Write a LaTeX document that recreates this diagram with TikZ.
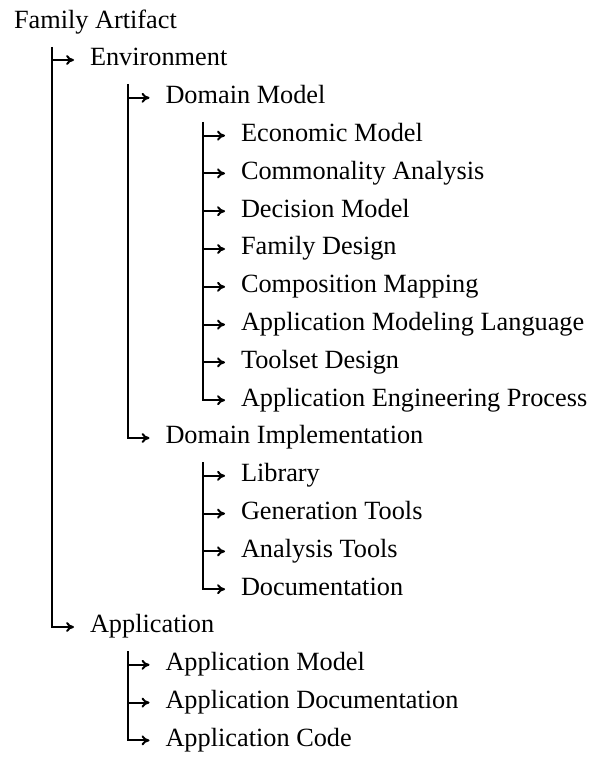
\documentclass[tikz,border=0pt]{standalone}
\usepackage{fontspec}
\setmainfont{Liberation Serif}
\usetikzlibrary{arrows.meta}
\begin{document}
\begin{tikzpicture}[x=1pt,y=-1pt,
  lbl/.style={anchor=west,inner sep=0pt,outer sep=0pt,
    font=\fontsize{26.3}{30}\selectfont,text height=18.4pt,text depth=6.6pt},
  conn/.style={line width=2pt,-{To[length=8pt,width=10pt]},shorten >=16pt}]
\useasboundingbox (0,0) rectangle (595,757);
% level 0
\node[lbl] (fa) at (14,22.2) {Family Artifact};
% level 1
\node[lbl] (env) at (90,60) {Environment};
\node[lbl] (app) at (90,627) {Application};
% level 2
\node[lbl] (dm) at (165.5,97.8) {Domain Model};
\node[lbl] (di) at (165.5,438) {Domain Implementation};
\node[lbl] (am) at (165.5,664.8) {Application Model};
\node[lbl] (ad) at (165.5,702.6) {Application Documentation};
\node[lbl] (ac) at (165.5,740.4) {Application Code};
% level 3 under Domain Model
\node[lbl] (em) at (241,135.6) {Economic Model};
\node[lbl] (ca) at (241,173.4) {Commonality Analysis};
\node[lbl] (dcm) at (241,211.2) {Decision Model};
\node[lbl] (fd) at (241,249) {Family Design};
\node[lbl] (cm) at (241,286.8) {Composition Mapping};
\node[lbl] (aml) at (241,324.6) {Application Modeling Language};
\node[lbl] (td) at (241,362.4) {Toolset Design};
\node[lbl] (aep) at (241,400.2) {Application Engineering Process};
% level 3 under Domain Implementation
\node[lbl] (lib) at (241,475.8) {Library};
\node[lbl] (gt) at (241,513.6) {Generation Tools};
\node[lbl] (at) at (241,551.4) {Analysis Tools};
\node[lbl] (doc) at (241,589.2) {Documentation};
% trunk tops
\coordinate (t0) at (52,47);
\coordinate (t1) at (127.5,84);
\coordinate (t2) at (203,122);
\coordinate (t3) at (203,462);
\coordinate (t4) at (127.5,651);
% Family Artifact children
\draw[conn] (t0 |- env.west) -- (env.west);
\draw[conn] (t0) |- (app.west);
% Environment children
\draw[conn] (t1 |- dm.west) -- (dm.west);
\draw[conn] (t1) |- (di.west);
% Domain Model children
\foreach \n in {em,ca,dcm,fd,cm,aml,td}
  \draw[conn] (t2 |- \n.west) -- (\n.west);
\draw[conn] (t2) |- (aep.west);
% Domain Implementation children
\foreach \n in {lib,gt,at}
  \draw[conn] (t3 |- \n.west) -- (\n.west);
\draw[conn] (t3) |- (doc.west);
% Application children
\foreach \n in {am,ad}
  \draw[conn] (t4 |- \n.west) -- (\n.west);
\draw[conn] (t4) |- (ac.west);
\end{tikzpicture}
\end{document}
